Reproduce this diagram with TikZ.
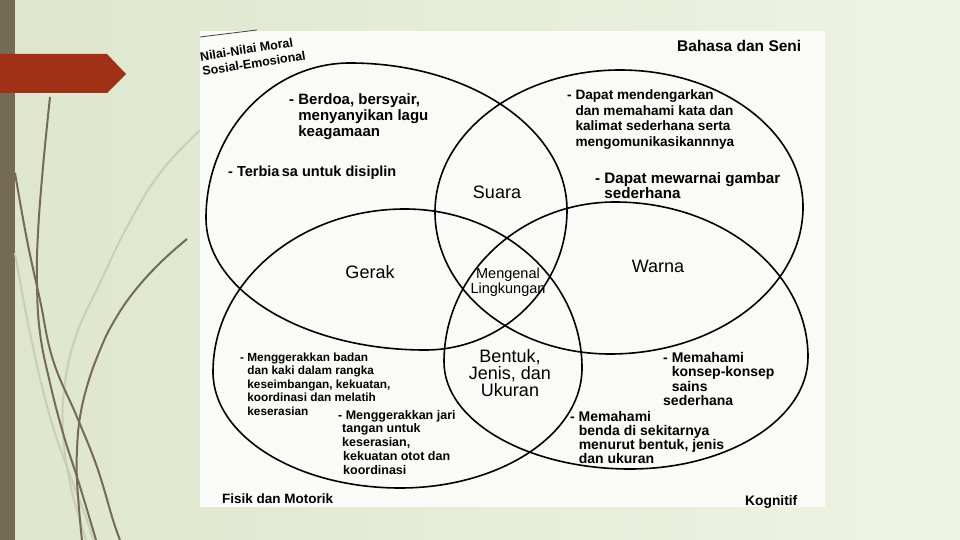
\documentclass[tikz,border=0pt]{standalone}
\usepackage{fontspec}
\setmainfont{Liberation Sans}
\definecolor{bgL}{RGB}{222,230,204}
\definecolor{bgR}{RGB}{239,243,228}
\definecolor{barC}{RGB}{117,107,85}
\definecolor{redC}{RGB}{160,48,22}
\definecolor{lightC}{RGB}{200,206,184}
\definecolor{scanC}{RGB}{250,250,248}
\newcommand{\ind}{\phantom{- }}
\newcommand{\eggpath}[8]{%
  \draw[venn] (#1,#2) .. controls ({#1+0.552*(#3-#1)},#2) and (#3,{#4-0.552*(#4-#2)}) .. (#3,#4)
  .. controls (#3,{#4+0.552*(#6-#4)}) and ({#5+0.552*(#3-#5)},#6) .. (#5,#6)
  .. controls ({#5-0.552*(#5-#7)},#6) and (#7,{#8+0.552*(#6-#8)}) .. (#7,#8)
  .. controls (#7,{#8-0.552*(#8-#2)}) and ({#1-0.552*(#1-#7)},#2) .. cycle;}
\tikzset{
  venn/.style={draw=black, line width=1.6pt},
  darkcurve/.style={draw=barC, line width=2pt},
  lightcurve/.style={draw=lightC, line width=2pt},
  lbl/.style={inner sep=0pt, anchor=base, align=center, font=\fontsize{18}{17}\selectfont},
  note/.style={inner sep=0pt, anchor=base west, align=left},
}
\begin{document}
\begin{tikzpicture}[x=1pt,y=-1pt]
\useasboundingbox (0,0) rectangle (960,540);
\shade[left color=bgL, right color=bgR] (0,0) rectangle (960,540);
\fill[barC] (0,0) rectangle (15,540);
% decorative curves
\draw[lightcurve] plot[smooth, tension=0.7] coordinates {(200,130) (160,173) (127,227) (100,283) (77,333) (65,383) (63,433) (70,483) (80,520) (86,540)};
\draw[lightcurve] plot[smooth, tension=0.7] coordinates {(15,253) (30,333) (50,417) (73,483) (87,520) (93,540)};
\draw[darkcurve] plot[smooth, tension=0.7] coordinates {(50,97) (43,167) (38,233) (37,283) (40,333) (50,383) (63,433) (77,477) (88,513) (96,540)};
\draw[darkcurve] plot[smooth, tension=0.7] coordinates {(15,173) (27,240) (40,300) (53,360) (77,417) (97,467) (113,520) (120,540)};
\draw[darkcurve] plot[smooth, tension=0.7] coordinates {(187,239) (160,263) (133,293) (113,323) (100,350) (88,383) (80,417) (77,450) (77,480) (80,520) (82,540)};
% red arrow
\fill[redC] (0,54) -- (107,54) -- (126,74) -- (107,93) -- (0,93) -- cycle;
% scanned sheet
\fill[scanC] (200,31) rectangle (825,507);
\draw[black!75, line width=0.8pt] (200,37) -- (257,30);
% four ellipses
\eggpath{350}{63}{567}{210}{425}{350}{206}{218}
\eggpath{620}{70}{803}{207}{610}{354}{435}{212}
\eggpath{405}{209}{582}{368}{400}{488}{213}{372}
\eggpath{615}{202}{808}{357}{630}{469}{444}{362}
% corner titles
\node[note, rotate=9, font=\bfseries\fontsize{12.5}{15}\selectfont] (moral) at (203,76) {Nilai-Nilai Moral\\Sosial-Emosional};
\node[note, font=\bfseries\fontsize{15.5}{16}\selectfont] (bahasa) at (677,52) {Bahasa dan Seni};
\node[note, font=\bfseries\fontsize{13.5}{14}\selectfont] (fisik) at (222,503) {Fisik dan Motorik};
\node[note, font=\bfseries\fontsize{13.8}{14}\selectfont] (kognitif) at (745,505) {Kognitif};
% central labels
\node[lbl] (suara) at (497,198) {Suara};
\node[lbl] (gerak) at (370,278) {Gerak};
\node[lbl] (warna) at (658,272) {Warna};
\node[lbl, font=\fontsize{14.5}{15}\selectfont] (mengenal) at (508,293) {Mengenal\\Lingkungan};
\node[lbl] (bentuk) at (510,396) {Bentuk,\\Jenis, dan\\Ukuran};
% notes
\node[note, font=\bfseries\fontsize{15}{16}\selectfont] (berdoa) at (289,137) {- Berdoa, bersyair,\\\ind menyanyikan lagu\\\ind keagamaan};
\node[note, font=\bfseries\fontsize{14.5}{16}\selectfont] (terbiasa) at (228,177) {- Terbia\,sa untuk disiplin};
\node[note, font=\bfseries\fontsize{13.6}{15.5}\selectfont] (dengar) at (567,146.5) {- Dapat mendengarkan\\\ind dan memahami kata dan\\\ind kalimat sederhana serta\\\ind mengomunikasikannnya};
\node[note, font=\bfseries\fontsize{15.2}{13.5}\selectfont] (mewarnai) at (595,198.5) {- Dapat mewarnai gambar\\\ind sederhana};
\node[note, font=\bfseries\fontsize{11.8}{13.5}\selectfont] (badan) at (240,415) {- Menggerakkan badan\\\ind dan kaki dalam rangka\\\ind keseimbangan, kekuatan,\\\ind koordinasi dan melatih\\\ind keserasian};
\node[note, font=\bfseries\fontsize{12.5}{13.7}\selectfont] (jari) at (338,474) {- Menggerakkan jari\\\hspace{4pt}tangan untuk\\\hspace{4pt}keserasian,\\\hspace{5pt}kekuatan otot dan\\\hspace{5pt}koordinasi};
\node[note, font=\bfseries\fontsize{14}{14.5}\selectfont] (konsep) at (663,405.5) {- Memahami\\\ind konsep-konsep\\\ind sains\\sederhana};
\node[note, font=\bfseries\fontsize{14}{13.7}\selectfont] (benda) at (570,463) {- Memahami\\\ind benda di sekitarnya\\\ind menurut bentuk, jenis\\\ind dan ukuran};
\end{tikzpicture}
\end{document}
